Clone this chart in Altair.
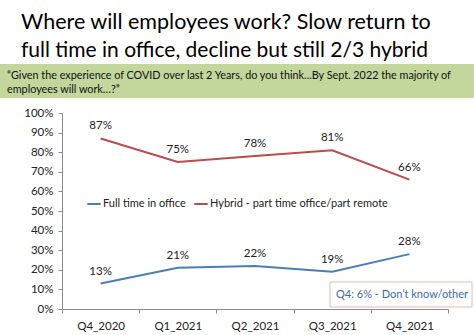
import altair as alt
import pandas as pd

quarters = ["Q4_2020", "Q1_2021", "Q2_2021", "Q3_2021", "Q4_2021"]
full_time = [0.13, 0.21, 0.22, 0.19, 0.28]
hybrid = [0.87, 0.75, 0.78, 0.81, 0.66]
series_names = ["Full time in office", "Hybrid - part time office/part remote"]
series_colors = ["#4a7ebb", "#be4b48"]
y_ticks = [0, 0.1, 0.2, 0.3, 0.4, 0.5, 0.6, 0.7, 0.8, 0.9, 1.0]

title_line1 = "Where will employees work? Slow return to"
title_line2 = "full time in office, decline but still 2/3 hybrid"
question_line1 = "\u201cGiven the experience of COVID over last 2 Years, do you think...By Sept. 2022 the majority of"
question_line2 = "employees will work\u2026?\u201d"
note_text = "Q4: 6% - Don\u2019t know/other"

FONT = "Lato"

rows = []
for q, v in zip(quarters, full_time):
    rows.append({"quarter": q, "series": series_names[0], "value": v})
for q, v in zip(quarters, hybrid):
    rows.append({"quarter": q, "series": series_names[1], "value": v})
df = pd.DataFrame(rows)

x_enc = alt.X("quarter:N", sort=quarters, title=None,
              scale=alt.Scale(paddingInner=0, paddingOuter=0),
              axis=alt.Axis(labelAngle=0, labelFont=FONT, labelFontSize=11.5,
                            labelColor="#222222", domainColor="#8c8c8c",
                            tickColor="#8c8c8c", tickSize=4, tickBand="extent",
                            labelPadding=7, grid=False))
y_enc = alt.Y("value:Q", title=None,
              scale=alt.Scale(domain=[0, 1]),
              axis=alt.Axis(format=".0%", values=y_ticks,
                            labelOverlap=False,
                            labelFont=FONT, labelFontSize=11.5, labelColor="#222222",
                            domainColor="#8c8c8c", tickColor="#8c8c8c",
                            tickSize=4, labelPadding=5, grid=False))
color_enc = alt.Color("series:N", sort=series_names,
                      scale=alt.Scale(domain=series_names, range=series_colors),
                      legend=alt.Legend(orient="none", legendX=24, legendY=83,
                                        direction="horizontal", title=None,
                                        symbolType="stroke", symbolSize=180,
                                        symbolStrokeWidth=2, labelFont=FONT,
                                        labelFontSize=11, labelColor="#222222",
                                        labelLimit=400,
                                        columnPadding=4, labelOffset=1))

base = alt.Chart(df)
lines = base.mark_line(strokeWidth=2).encode(x=x_enc, y=y_enc, color=color_enc)
labels = base.mark_text(font=FONT, fontSize=11.5, dy=-12, color="#222222").encode(
    x=x_enc,
    y=y_enc,
    text=alt.Text("value:Q", format=".0%"),
)

note_df = pd.DataFrame({"t": [note_text]})
note_box = alt.Chart(note_df).mark_rect(fill="white", stroke="#e6b9b8", strokeWidth=1).encode(
    x=alt.value(268), x2=alt.value(410), y=alt.value(169), y2=alt.value(194))
note = alt.Chart(note_df).mark_text(font=FONT, fontSize=11, color="#3f6aa8", align="left",
                                    baseline="middle").encode(
    x=alt.value(274), y=alt.value(182), text="t:N")

head_df = pd.DataFrame({"a": [title_line1], "b": [title_line2],
                        "c": [question_line1], "d": [question_line2]})
green = alt.Chart(head_df).mark_rect(fill="#c3d69b").encode(
    x=alt.value(-62), x2=alt.value(412), y=alt.value(-49), y2=alt.value(-15))
t1 = alt.Chart(head_df).mark_text(font=FONT, fontSize=21.5, color="#000000", align="left",
                                  baseline="alphabetic").encode(
    x=alt.value(-41), y=alt.value(-84), text="a:N")
t2 = alt.Chart(head_df).mark_text(font=FONT, fontSize=21, color="#000000", align="left",
                                  baseline="alphabetic").encode(
    x=alt.value(-41), y=alt.value(-56), text="b:N")
q1 = alt.Chart(head_df).mark_text(font=FONT, fontSize=10.8, color="#111111", align="left",
                                  baseline="alphabetic").encode(
    x=alt.value(-55), y=alt.value(-34), text="c:N")
q2 = alt.Chart(head_df).mark_text(font=FONT, fontSize=10.8, color="#111111", align="left",
                                  baseline="alphabetic").encode(
    x=alt.value(-55), y=alt.value(-20), text="d:N")

chart = alt.layer(green, t1, t2, q1, q2, lines, labels, note_box, note).properties(
    width=386, height=196,
    autosize=alt.AutoSizeParams(type="none"),
    padding={"left": 62, "top": 113, "right": 26, "bottom": 26},
).configure_view(stroke=None)

chart.save("out.html", embed_options={"renderer": "svg", "actions": False})
